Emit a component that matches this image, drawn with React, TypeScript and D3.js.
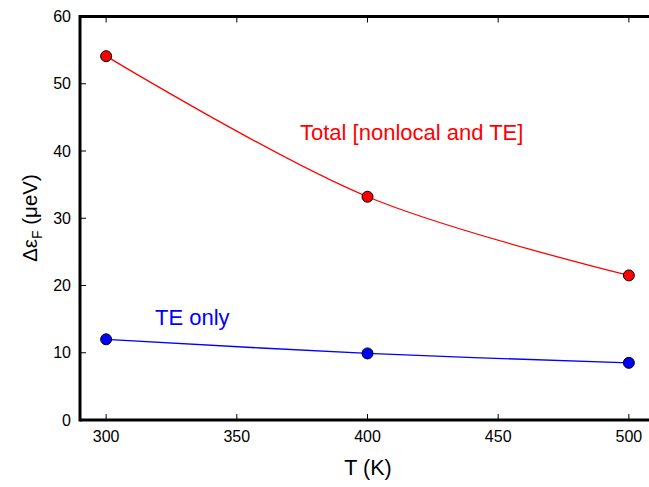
import React from "react";
import * as d3 from "d3";

const temps = [300, 400, 500];
const totalVals = [54.1, 33.2, 21.5];
const teVals = [12.0, 9.9, 8.5];
const xTicks = [300, 350, 400, 450, 500];
const yTicks = [0, 10, 20, 30, 40, 50, 60];

const W = 649;
const H = 487;

const App = () => {
  const x = d3.scaleLinear().domain([290, 510]).range([80, 655]);
  const y = d3.scaleLinear().domain([0, 60]).range([420, 16.5]);
  const line = d3
    .line<number>()
    .x((d, i) => x(temps[i]))
    .y((d) => y(d))
    .curve(d3.curveCatmullRom);
  const font = "Liberation Sans, Arial, sans-serif";

  return (
    <svg width={W} height={H} style={{ position: "absolute", left: 0, top: 0 }} fontFamily={font}>
      <rect width={W} height={H} fill="#fff" />
      {/* series */}
      <path d={line(totalVals) || ""} fill="none" stroke="#ff0000" strokeWidth={1.3} />
      <path d={line(teVals) || ""} fill="none" stroke="#0000ff" strokeWidth={1.3} />
      {totalVals.map((v, i) => (
        <circle key={"t" + i} cx={x(temps[i])} cy={y(v)} r={5.5} fill="#ff0000" stroke="#000" strokeWidth={1} />
      ))}
      {teVals.map((v, i) => (
        <circle key={"e" + i} cx={x(temps[i])} cy={y(v)} r={5.5} fill="#0000ff" stroke="#000" strokeWidth={1} />
      ))}
      {/* axes */}
      <line x1={80} x2={W} y1={420} y2={420} stroke="#000" strokeWidth={3} />
      <line x1={80} x2={W} y1={16.5} y2={16.5} stroke="#000" strokeWidth={3} />
      <line x1={80} x2={80} y1={15} y2={421.5} stroke="#000" strokeWidth={3} />
      {xTicks.map((t) => (
        <g key={"x" + t}>
          <line x1={x(t)} x2={x(t)} y1={420} y2={414} stroke="#000" strokeWidth={1} />
          <line x1={x(t)} x2={x(t)} y1={16.5} y2={22.5} stroke="#000" strokeWidth={1} />
          <text x={x(t)} y={442} textAnchor="middle" fontSize={16}>
            {t}
          </text>
        </g>
      ))}
      {yTicks.map((t) => (
        <g key={"y" + t}>
          <line x1={80} x2={86} y1={y(t)} y2={y(t)} stroke="#000" strokeWidth={1} />
          <text x={71} y={y(t) + 5.5} textAnchor="end" fontSize={16}>
            {t}
          </text>
        </g>
      ))}
      {/* labels */}
      <text x={368} y={475} textAnchor="middle" fontSize={21.5}>
        T (K)
      </text>
      <text transform="translate(36.5,218) rotate(-90)" textAnchor="middle" fontSize={20.5}>
        Δε<tspan fontSize={14} dy={5}>F</tspan>
        <tspan dy={-5}> (μeV)</tspan>
      </text>
      <text x={300} y={140} fontSize={22} fill="#ff0000">
        Total [nonlocal and TE]
      </text>
      <text x={155} y={325} fontSize={22} fill="#0000ff">
        TE only
      </text>
    </svg>
  );
};

export default App;
